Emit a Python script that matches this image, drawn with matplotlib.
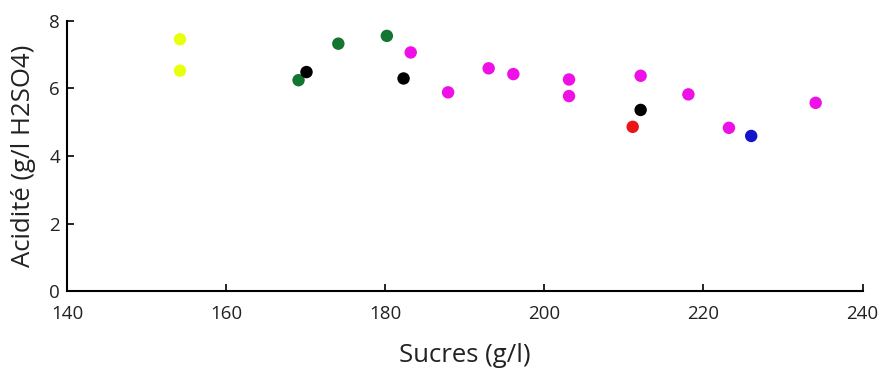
import matplotlib
matplotlib.use("Agg")
import matplotlib.pyplot as plt

plt.rcParams['font.family'] = ['Open Sans', 'DejaVu Sans']

# Data by colour group (Sucres g/l, Acidité g/l H2SO4)
yellow_x = [154.2, 154.2]
yellow_y = [7.45, 6.52]
green_x = [169.1, 174.1, 180.2]
green_y = [6.24, 7.32, 7.55]
black_x = [170.1, 182.3, 212.1]
black_y = [6.48, 6.29, 5.36]
magenta_x = [183.2, 187.9, 193.0, 196.1, 203.1, 203.1, 212.1, 218.1, 223.2, 234.1]
magenta_y = [7.06, 5.88, 6.59, 6.42, 6.26, 5.77, 6.37, 5.82, 4.83, 5.57]
red_x = [211.1]
red_y = [4.86]
blue_x = [226.0]
blue_y = [4.59]

x_ticks = [140, 160, 180, 200, 220, 240]
y_ticks = [0, 2, 4, 6, 8]

fig = plt.figure(figsize=(8.82, 3.69), dpi=100)
ax = fig.add_axes([0.076, 0.211, 0.902, 0.733])

s = 80
ax.scatter(yellow_x, yellow_y, s=s, color='#E8FF10', edgecolors='none', zorder=3)
ax.scatter(green_x, green_y, s=s, color='#127530', edgecolors='none', zorder=3)
ax.scatter(magenta_x, magenta_y, s=s, color='#EE10E6', edgecolors='none', zorder=3)
ax.scatter(red_x, red_y, s=s, color='#EC1414', edgecolors='none', zorder=3)
ax.scatter(blue_x, blue_y, s=s, color='#1414C8', edgecolors='none', zorder=3)
ax.scatter(black_x, black_y, s=s, color='#000000', edgecolors='none', zorder=4)

ax.set_xlim(140, 240)
ax.set_ylim(0, 8)
ax.set_xticks(x_ticks)
ax.set_yticks(y_ticks)
for sp in ['top', 'right']:
    ax.spines[sp].set_visible(False)
for sp in ['left', 'bottom']:
    ax.spines[sp].set_linewidth(1.5)
ax.tick_params(direction='in', length=5, width=1.2, labelsize=13.5,
               color='black', labelcolor='#222222')
ax.tick_params(axis='x', pad=10)
ax.tick_params(axis='y', pad=5)

ax.set_xlabel('Sucres (g/l)', fontsize=18.5, color='#222222')
ax.set_ylabel('Acidité (g/l H2SO4)', fontsize=18.5, color='#222222')
ax.xaxis.set_label_coords(0.5, -0.237)
ax.xaxis.label.set_va('center')
ax.yaxis.set_label_coords(-0.055, 0.5)
ax.yaxis.label.set_va('center')

fig.savefig('out.png', dpi=100)
